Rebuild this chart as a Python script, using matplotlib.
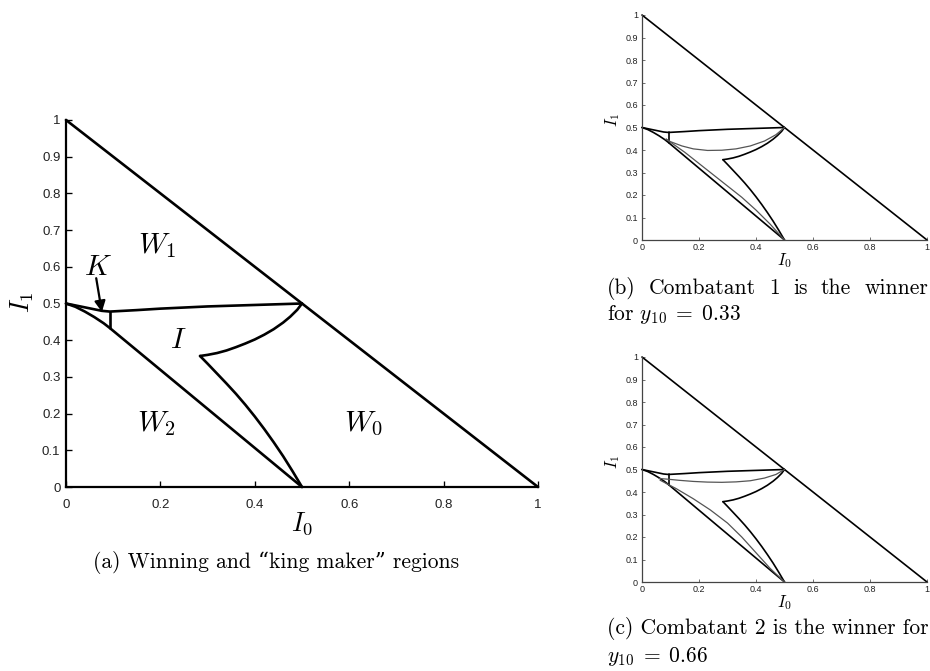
import matplotlib
matplotlib.use('Agg')
import matplotlib.pyplot as plt

plt.rcParams['mathtext.fontset'] = 'cm'
plt.rcParams['font.family'] = ['Liberation Sans', 'DejaVu Sans']

W, H = 930, 671

# simplex edge I0 + I1 = 1
hyp_x = [0, 1]
hyp_y = [1, 0]

# boundary between W1 and the I / K regions
upper_x = [0, 0.076, 0.093, 0.15, 0.2, 0.25, 0.3, 0.35, 0.4, 0.45, 0.5]
upper_y = [0.5, 0.480, 0.478, 0.482, 0.486, 0.489, 0.492, 0.494, 0.496, 0.498, 0.5]

# boundary of W2
lower_x = [0, 0.02, 0.04, 0.06, 0.08, 0.093, 0.5]
lower_y = [0.5, 0.491, 0.478, 0.463, 0.446, 0.433, 0]

# right edge of the king maker region K
k_x = [0.093, 0.093]
k_y = [0.433, 0.478]

# cusp of region I
cusp_top_x = [0.284, 0.30, 0.32, 0.34, 0.36, 0.38, 0.40, 0.42, 0.44, 0.46, 0.475, 0.49, 0.5]
cusp_top_y = [0.357, 0.360, 0.365, 0.372, 0.381, 0.391, 0.402, 0.415, 0.430, 0.448, 0.464, 0.483, 0.5]
cusp_bot_x = [0.284, 0.30, 0.32, 0.34, 0.36, 0.38, 0.40, 0.42, 0.44, 0.46, 0.48, 0.5]
cusp_bot_y = [0.357, 0.336, 0.309, 0.282, 0.254, 0.224, 0.192, 0.158, 0.122, 0.084, 0.043, 0]

# winner regions for y10 = 0.33
b_arc_x = [0.5, 0.47, 0.43, 0.38, 0.33, 0.28, 0.23, 0.18, 0.14, 0.1, 0.085]
b_arc_y = [0.5, 0.468, 0.44, 0.418, 0.405, 0.399, 0.398, 0.405, 0.418, 0.437, 0.448]
b_line_x = [0.085, 0.15, 0.2, 0.25, 0.3, 0.35, 0.4, 0.45, 0.5]
b_line_y = [0.448, 0.39, 0.34, 0.29, 0.24, 0.19, 0.133, 0.07, 0]

# winner regions for y10 = 0.66
c_arc_x = [0.5, 0.47, 0.43, 0.38, 0.33, 0.28, 0.23, 0.18, 0.13, 0.09, 0.06]
c_arc_y = [0.5, 0.478, 0.462, 0.45, 0.445, 0.443, 0.444, 0.447, 0.452, 0.457, 0.46]
c_line_x = [0.064, 0.12, 0.18, 0.24, 0.3, 0.35, 0.4, 0.45, 0.5]
c_line_y = [0.452, 0.415, 0.37, 0.32, 0.262, 0.2, 0.13, 0.06, 0]

xticks = [0, 0.2, 0.4, 0.6, 0.8, 1]
xticklabels = ['0', '0.2', '0.4', '0.6', '0.8', '1']
yticks = [0, 0.1, 0.2, 0.3, 0.4, 0.5, 0.6, 0.7, 0.8, 0.9, 1]
yticklabels = ['0', '0.1', '0.2', '0.3', '0.4', '0.5', '0.6', '0.7', '0.8', '0.9', '1']

serif = ['cmr10', 'DejaVu Serif']


def px(x, y):
    return x / W, 1 - y / H


def box(l, t, r, b):
    return [l / W, 1 - b / H, (r - l) / W, (b - t) / H]


def style_axes(ax, fs, lw, color, tlen, xpad, ypad):
    ax.set_xlim(0, 1)
    ax.set_ylim(0, 1)
    for s in ['top', 'right']:
        ax.spines[s].set_visible(False)
    for s in ['left', 'bottom']:
        ax.spines[s].set_linewidth(lw)
        ax.spines[s].set_color(color)
    ax.set_xticks(xticks)
    ax.set_xticklabels(xticklabels)
    ax.set_yticks(yticks)
    ax.set_yticklabels(yticklabels)
    ax.tick_params(direction='in', length=tlen, width=lw * 0.6, color=color,
                   labelsize=fs, labelcolor='#222222')
    ax.tick_params(axis='x', pad=xpad)
    ax.tick_params(axis='y', pad=ypad)


def draw_regions(ax, lw):
    kw = dict(color='k', lw=lw, clip_on=False, solid_capstyle='round', solid_joinstyle='round')
    ax.plot(hyp_x, hyp_y, **kw)
    ax.plot(upper_x, upper_y, **kw)
    ax.plot(lower_x, lower_y, **kw)
    ax.plot(k_x, k_y, **kw)
    ax.plot(cusp_top_x, cusp_top_y, **kw)
    ax.plot(cusp_bot_x, cusp_bot_y, **kw)


def justify(fig, words, x0, x1, y, **kw):
    # spread words over [x0, x1] like a justified TeX line
    r = fig.canvas.get_renderer()
    texts = [fig.text(0, y, w, ha='left', va='center', **kw) for w in words]
    widths = [t.get_window_extent(r).width for t in texts]
    gap = (x1 - x0 - sum(widths)) / (len(words) - 1)
    x = x0
    for t, w in zip(texts, widths):
        t.set_x(x / W)
        x += w + gap


fig = plt.figure(figsize=(W / 100, H / 100), dpi=100)

# (a) main panel
ax = fig.add_axes(box(66, 120, 538, 487))
style_axes(ax, 9.5, 1.6, 'k', 4, 9, 4)
draw_regions(ax, 1.9)
lab = dict(fontsize=21, ha='center', va='center')
ax.text(0.193, 0.659, '$W_1$', **lab)
ax.text(0.068, 0.599, '$K$', **lab)
ax.text(0.238, 0.40, '$I$', **lab)
ax.text(0.192, 0.174, '$W_2$', **lab)
ax.text(0.63, 0.172, '$W_0$', **lab)
ax.annotate('', xy=(0.076, 0.477), xytext=(0.064, 0.569),
            arrowprops=dict(arrowstyle='-|>', color='k', lw=1.6, mutation_scale=16,
                            shrinkA=0, shrinkB=0))
fig.text(*px(302, 524), '$I_0$', fontsize=19, ha='center', va='center')
fig.text(*px(22, 302), '$I_1$', fontsize=19, ha='center', va='center', rotation=90)
fig.text(*px(276, 562), '(a) Winning and “king maker” regions', fontsize=15.5,
         ha='center', va='center', family=serif)

# (b) and (c) small panels
panels = [
    (15, 240, b_arc_x, b_arc_y, b_line_x, b_line_y),
    (357, 582, c_arc_x, c_arc_y, c_line_x, c_line_y),
]
for top, bottom, ax_, ay_, lx_, ly_ in panels:
    sax = fig.add_axes(box(642, top, 927, bottom))
    style_axes(sax, 6.5, 0.9, '#444444', 2.5, 2.5, 3)
    draw_regions(sax, 1.2)
    sax.plot(ax_, ay_, color='#555555', lw=0.9, clip_on=False)
    sax.plot(lx_, ly_, color='#555555', lw=0.9, clip_on=False)
    fig.text(*px(784, bottom + 21), '$I_0$', fontsize=12, ha='center', va='center')
    fig.text(*px(613, (top + bottom) / 2 - 8), '$I_1$', fontsize=12, ha='center',
             va='center', rotation=90)

justify(fig, ['(b)', 'Combatant', '1', 'is', 'the', 'winner'], 607, 928, px(0, 288)[1],
        fontsize=15.5, family=serif)
fig.text(*px(607, 314), r'for $y_{10} \;=\; 0.33$', fontsize=15.5, ha='left', va='center',
         family=serif)
fig.text(*px(607, 628), '(c) Combatant 2 is the winner for', fontsize=15.5, ha='left',
         va='center', family=serif)
fig.text(*px(607, 656), r'$y_{10} \;=\; 0.66$', fontsize=15.5, ha='left', va='center',
         family=serif)

fig.savefig('out.png', dpi=100)
